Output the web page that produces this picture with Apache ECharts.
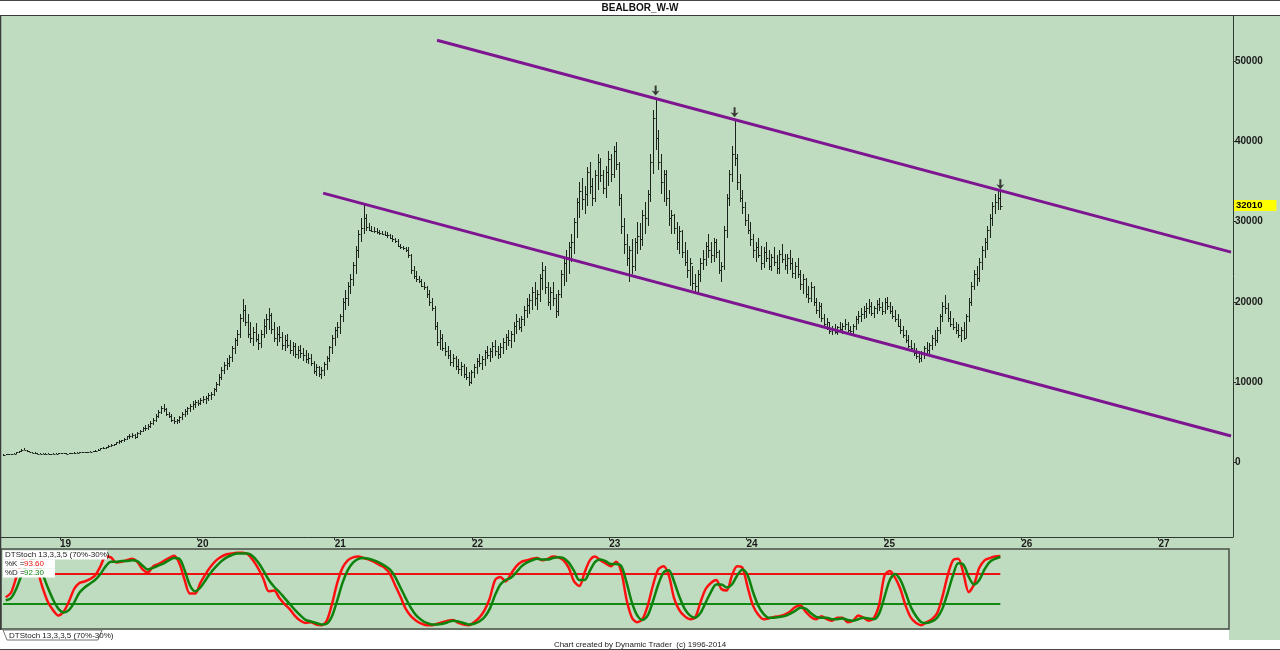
<!DOCTYPE html>
<html><head><meta charset="utf-8">
<script src="https://cdn.jsdelivr.net/npm/echarts@6/dist/echarts.min.js"></script>
<style>html,body{margin:0;padding:0;background:#fff;}#c{width:1280px;height:650px;}</style>
</head><body><div id="c"></div>
<script>
const chartTitle = 'BEALBOR_W-W';
const footerText = 'Chart created by Dynamic Trader  (c) 1996-2014';
const stochName = 'DTStoch 13,3,3,5 (70%-30%)';
const yearTicks = [2019, 2020, 2021, 2022, 2023, 2024, 2025, 2026, 2027];
const yearLabels = ['19', '20', '21', '22', '23', '24', '25', '26', '27'];
const priceTicks = [0, 10000, 20000, 30000, 40000, 50000];
const stochLevels = [70, 30];
const startYear = 2018.585;          // date (in years) of the first weekly bar
const weekStep = 7 / 365.25;

// weekly bars: [low, high, close]
const bars2018 = [[800,950,900],[850,1000,950],[900,1000,950],[900,1050,1000],[950,1100,1050],[1000,1250,1200],[1150,1400,1350],[1300,1600,1550],[1450,1700,1500],[1300,1550,1350],[1200,1400,1250],[1100,1300,1150],[1050,1200,1100],[1000,1150,1050],[950,1100,1000],[950,1100,1050],[1000,1100,1050],[950,1100,1000],[950,1050,1000],[950,1100,1050],[1000,1100,1050],[1000,1150,1100]];
const bars2019 = [[1000,1150,1100],[1050,1150,1100],[1000,1100,1050],[1000,1150,1100],[1050,1150,1100],[1050,1200,1150],[1100,1200,1150],[1100,1250,1200],[1150,1300,1250],[1150,1300,1200],[1150,1300,1250],[1200,1350,1300],[1250,1400,1350],[1300,1450,1400],
[1350,1600,1550],[1500,1750,1700],[1600,1850,1750],[1650,1900,1850],[1750,2100,2050],[1900,2250,2150],[2000,2300,2200],[2100,2500,2450],[2300,2700,2600],[2400,2800,2700],[2500,3000,2900],[2700,3300,3200],[2900,3500,3300],
[3000,3600,3400],[2900,3500,3100],[3000,3700,3600],[3400,4000,3900],[3700,4400,4300],[3900,4600,4200],[4000,4700,4500],[4300,5100,4900],[4600,5500,5300],[5000,6000,5800],[5500,6500,6300],
[6000,7000,6700],[6300,7200,6600],[5800,6800,6000],[5500,6300,5700],[5000,6000,5300],[4800,5600,5100],[4700,5400,5200],
[4900,5800,5600],[5200,6200,6000],[5600,6600,6400],[5900,6900,6700],[6300,7200,7000],[6500,7600,7300],[6800,7800,7500]];
const bars2020 = [[7000,7800,7400],[7100,8000,7800],[7400,8300,7900],[7300,8200,8000],[7600,8600,8400],[7800,8800,8500],[8200,9300,9100],[8800,10000,9800],[9500,11000,10600],[10200,11800,11500],
[11000,12500,12100],[11500,13000,12300],[11800,13400,13100],[12500,14500,14200],[13500,15500,15200],[14500,16500,16000],[15500,18500,18000],[17500,20300,19000],[17000,19600,17500],[15500,18500,16000],
[14800,17500,15500],[14500,16800,16200],[15000,17300,15300],[14000,16000,14800],[14200,16500,16000],[15500,17800,17000],[16000,18500,17800],[16500,19200,18300],[16000,18600,16600],[15000,17500,15500],
[14500,16800,16000],[15000,17000,15600],[14000,16200,14600],[13800,15800,15200],[14200,16000,14600],[13500,15200,14000],[13200,15000,14500],[13000,14800,13500],[12800,14500,14000],[13000,14600,13600],
[12600,14200,13300],[12400,14000,12800],[12200,13600,13000],[12000,13500,12300],[11000,12600,11400],[10800,12200,11800],[10600,12000,11000],[10400,11800,11500],[10800,12500,12200],[11500,13200,13000],
[12500,14500,14300],[13500,15800,15500]];
const bars2021 = [[14500,16800,16500],[15500,17500,16800],[16000,18500,18200],[17500,20500,20000],[19000,21500,20500],[19500,22500,22000],[21000,23500,22800],[22000,25000,24600],[23500,27000,26500],[25500,29000,28500],
[27500,30500,29200],[28500,32300,30500],[28800,31000,29300],[28800,29800,29000],[28700,29500,28900],[28600,29300,28800],[28500,29200,28700],[28400,29000,28600],[28400,28900,28500],[28200,28800,28400],
[28000,28700,28300],[27900,28500,28000],[27500,28300,27800],[27400,28000,27600],[26800,27800,27000],[26600,27200,26900],[26500,27000,26700],[26200,26900,26500],[25500,26800,25800],[23500,26000,24000],
[22800,24500,23200],[22500,23800,22900],[22300,23200,22600],[21800,22800,22000],[21500,22500,21800],[20500,22000,21000],[19500,21500,20000],[18800,20500,19200],[16500,19500,17000],[14500,17500,15000],
[14000,16500,15500],[13800,16000,14200],[13200,15000,13800],[12800,14500,13300],[12000,14000,12500],[11800,13500,13000],[11500,13200,12000],[11000,12800,11600],[10800,12500,12000],[10500,12200,11000],
[10200,11800,10600],[9500,11200,10000],[9800,11500,11200]];
const bars2022 = [[10500,12200,11800],[11000,13000,12600],[11800,13500,12400],[11500,13200,12900],[12000,14000,13700],[12800,14500,13300],[12500,14200,13900],[13000,15000,14500],[13200,15200,13800],[12800,14500,13500],
[13000,14800,14400],[13500,15500,15000],[14000,16000,15600],[14500,16500,15200],[14200,16300,16000],[15000,17500,17000],[16000,18500,17600],[16500,18000,16900],[16200,18200,17800],[17000,19500,19000],
[18000,20500,19600],[18500,21000,20200],[19000,21800,21200],[19500,22500,20500],[19000,21500,21000],[20000,23500,23000],[21500,25000,24000],[21000,24500,21800],[19500,22500,20000],[19000,21800,21200],
[19500,22500,20500],[18000,21000,18800],[18200,21500,21000],[20500,24000,23500],[22000,25500,24800],[22500,26500,25600],[23500,27500,26800],[25000,28500,27500],[26000,30500,30000],[28000,33000,32400],
[30500,35000,33800],[31500,35500,32800],[31000,34500,33500],[32000,36800,36200],[33500,37500,34500],[32000,35500,33000],[32500,36500,35800],[34000,38500,37500],[35000,38000,35800],[33500,36500,34200],
[33000,37000,36200],[34500,38800,37800]];
const bars2023 = [[35000,38500,36000],[35500,39500,38800],[36500,40000,37200],[32000,37500,33000],[28500,33500,29500],[26000,30500,27200],[24500,28500,25500],[22500,27000,26500],[23500,27800,24500],[23800,28000,27500],
[26000,30000,28200],[26500,29800,27800],[27000,31500,30800],[28500,32500,30500],[29500,34000,33500],[32500,38500,37500],[36000,44000,43000],[39000,45500,40500],[36500,41500,37500],[33500,38500,35000],
[32500,36500,36000],[32000,36500,33000],[29500,34000,30500],[28500,31500,30800],[28500,31000,29200],[26500,30000,27500],[26000,29500,28800],[25500,29000,26200],[24500,27500,25000],[23000,26500,24000],
[22000,25500,24800],[21500,24500,22300],[21000,23500,22000],[21200,24000,23500],[22500,25500,24800],[24000,26500,25400],[24500,27500,27000],[25500,28500,26500],[24800,27500,25800],[25000,28000,27500],
[25500,27800,26200],[23500,26500,24000],[22500,25000,24500],[24000,29500,29000],[28000,33500,33000],[32000,36500,36000],[35000,39500,38500],[37000,42800,38000],[34000,38500,35000],[32500,36000,33000],
[31000,34000,31800],[29500,32500,30200]];
const bars2024 = [[28500,31000,29000],[27000,30000,27800],[25500,28500,26500],[25000,27500,26800],[25500,28000,25800],[24000,27000,24800],[24200,26800,26200],[25000,27500,25500],[24000,26500,24500],[23800,26000,25600],
[24500,26800,25000],[23500,25800,24200],[23500,26500,26000],[24800,27200,25300],[24000,26000,24600],[23500,26000,25500],[24000,26500,24800],[23000,25500,23600],[22800,25000,24500],[23000,25500,23500],
[21500,24000,22200],[21000,23500,22800],[20500,23000,21000],[19800,22000,20500],[20000,22500,21800],[19500,22000,20000],[18500,20500,19000],[18000,20000,19500],[17500,19800,18000],[16800,18500,17200],
[16500,18000,17500],[16000,17500,16400],[15800,17000,16500],[16000,17200,16200],[15900,17000,16800],[16200,17500,16600],[16000,17300,17000],[16500,17800,17200],[16200,17500,16500],[16000,17000,16400],
[15800,17200,17000],[16500,18200,17800],[17200,18800,18200],[17500,19200,18500],[17800,19500,18800],[18000,19800,19200],[18500,20300,19500],[18200,20000,18600],[18000,19500,19200],[18500,20200,19700],
[18800,20500,19400],[18300,20000,18800]];
const bars2025 = [[18500,20500,20000],[19000,20600,19500],[18500,20000,18800],[17800,19500,18200],[17500,19000,17800],[16800,18500,17000],[16000,17800,16500],[15500,17000,15800],[14800,16500,15200],[14200,15800,14500],
[13800,15200,14200],[13200,14800,13600],[12800,14200,13200],[12400,13800,13000],[12500,13800,13500],[12800,14500,14200],[13500,15000,14000],[13200,14800,14600],[14000,15800,15500],[14500,16500,15200],
[14800,16800,16500],[16000,18500,18200],[17500,20000,19500],[18500,20800,19200],[17500,19800,18000],[16800,18800,17200],[16500,18000,16800],[16000,17500,16500],[15500,17200,15800],[15000,16800,16500],
[15200,17500,15500],[15500,18500,18200],[17500,20500,20000],[19500,22500,22000],[21500,24000,23500],[22000,24500,23000],[22500,25500,25000],[24000,27000,26500],[25500,28000,27500],[26500,29500,29000],
[28000,31000,30500],[29500,32500,32000],[31000,33500,32500],[31500,34000,33000],[31500,33800,32010]];

// channel lines drawn on the chart: [year, price]
const upperChannel = [[2021.746, 52660], [2027.529, 26200]];
const lowerChannel = [[2020.916, 33570], [2027.529, 3245]];
// bars marked with an arrow above their high
const arrowBars = [248, 278, 379];

// stochastic, sampled every second week (bar index 2j+1)
const stochK = [39,45,65,85,93,90,75,52,33,22,15,20,33,50,58,60,63,68,80,93,
92,85,86,88,90,86,76,72,80,83,87,91,94,84,62,44,44,58,70,80,
88,93,96,97,98,98,96,88,77,63,47,48,38,30,23,14,8,5,6,3,
2,8,30,58,78,88,92,93,91,89,86,82,78,70,55,40,24,14,8,4,
2,2,4,6,8,9,5,3,2,6,12,22,38,62,66,60,70,80,86,88,
90,91,88,90,93,92,88,78,60,54,72,88,93,88,84,80,86,72,35,12,
6,10,28,55,76,80,68,38,22,14,10,12,32,50,58,62,50,48,68,80,
78,52,28,16,10,11,13,14,16,20,26,28,20,13,10,14,10,8,12,12,
6,8,15,12,8,12,30,68,74,65,50,28,12,5,2,6,10,18,40,68,
88,90,70,46,56,78,88,91,93,93.6];
const stochD = [35,38,50,68,82,88,84,70,52,36,24,19,22,32,45,52,57,62,70,80,
86,86,87,87,88,87,81,76,78,81,84,88,91,90,75,55,47,52,62,72,
80,87,92,95,97,97,97,93,85,74,62,53,46,38,30,22,15,9,7,5,
3,4,14,35,58,75,85,90,91,90,88,85,81,76,66,52,38,25,15,9,
5,3,3,4,6,8,7,5,3,4,7,13,24,42,56,62,65,72,80,85,
88,90,89,89,91,92,91,85,74,62,62,74,86,89,87,83,83,80,58,32,
15,9,15,34,56,72,75,60,40,24,15,12,18,32,46,56,56,52,56,68,
76,68,46,28,17,12,12,13,14,17,21,25,24,18,13,12,12,10,10,11,
9,8,10,12,11,10,18,40,62,70,62,45,26,14,6,5,7,12,24,45,
68,84,82,66,56,62,76,86,90,92.3];

const allBars = [].concat(bars2018, bars2019, bars2020, bars2021, bars2022, bars2023, bars2024, bars2025);
const yearOf = i => startYear + i * weekStep;
const ohlcData = allBars.map((b, i) => [yearOf(i), b[0], b[1], b[2]]);
const lastIdx = allBars.length - 1;
const lastClose = allBars[lastIdx][2];
const kData = stochK.map((v, j) => [yearOf(2 * j + 1), v]);
const dData = stochD.map((v, j) => [yearOf(2 * j + 1), v]);
const arrowData = arrowBars.map(i => [yearOf(i), allBars[i][1]]);
const levelLine = v => [[yearOf(0), v], [yearOf(lastIdx), v]];

const GREEN_BG = '#c0dcc0';
const FONT = '"Liberation Sans", Arial, sans-serif';
const X_MIN = 2018.570, PX_PER_YEAR = 137.3;
const txt = (x, y, text, font, fill, align) => ({type: 'text', x: x, y: y, z: 21,
  style: {text: text, font: font, fill: fill, align: align, verticalAlign: 'middle', textAlign: align, textVerticalAlign: 'middle'}});

const chart = echarts.init(document.getElementById('c'), null, {renderer: 'canvas'});
chart.setOption({
  animation: false,
  backgroundColor: GREEN_BG,
  grid: [
    {left: 1, top: 16, width: 1232, height: 521, containLabel: false},
    {left: 1, top: 549, width: 1228, height: 80, show: true, borderColor: '#4a4f4a', borderWidth: 1.5, backgroundColor: 'transparent'}
  ],
  xAxis: [
    {type: 'value', gridIndex: 0, min: X_MIN, max: X_MIN + 1232 / PX_PER_YEAR, splitLine: {show: false},
     axisLine: {show: true, onZero: false, lineStyle: {color: '#2f3a2f', width: 1}},
     axisTick: {show: true, customValues: yearTicks, length: 3, lineStyle: {color: '#333'}},
     axisLabel: {customValues: yearTicks, formatter: v => yearLabels[yearTicks.indexOf(Math.round(v))],
       align: 'left', margin: 2, color: '#1a1a1a', fontSize: 10, fontWeight: 'bold', fontFamily: FONT}},
    {type: 'value', gridIndex: 1, min: X_MIN, max: X_MIN + 1228 / PX_PER_YEAR, show: false}
  ],
  yAxis: [
    {type: 'value', gridIndex: 0, position: 'right', min: -9360, max: 55680, splitLine: {show: false},
     axisLine: {show: true, onZero: false, lineStyle: {color: '#2f3a2f', width: 1}},
     axisTick: {show: true, customValues: priceTicks, length: 3, inside: false, lineStyle: {color: '#333'}},
     axisLabel: {customValues: priceTicks, formatter: v => String(v), margin: 2, color: '#1a1a1a', fontSize: 10,
       fontWeight: 'bold', fontFamily: FONT, align: 'left'}},
    {type: 'value', gridIndex: 1, min: -3, max: 103, show: false}
  ],
  series: [
    {
      type: 'custom', xAxisIndex: 0, yAxisIndex: 0, data: ohlcData, silent: true,
      encode: {x: 0, y: [1, 2, 3]},
      renderItem: (params, api) => {
        const x = api.value(0);
        const lo = api.coord([x, api.value(1)]);
        const hi = api.coord([x, api.value(2)]);
        const cl = api.coord([x, api.value(3)]);
        const px = Math.round(lo[0]) + 0.5;
        let y1 = Math.round(lo[1]), y2 = Math.round(hi[1]);
        if (y1 - y2 < 1) y1 = y2 + 1;
        const cy = Math.round(cl[1]) + 0.5;
        const st = {stroke: '#1c241c', lineWidth: 1};
        return {type: 'group', children: [
          {type: 'line', shape: {x1: px, y1: y1, x2: px, y2: y2}, style: st},
          {type: 'line', shape: {x1: px, y1: cy, x2: px + 2, y2: cy}, style: st}
        ]};
      }
    },
    {type: 'line', xAxisIndex: 0, yAxisIndex: 0, data: upperChannel, symbol: 'none', silent: true,
     lineStyle: {color: '#7e1590', width: 3},
     markLine: {silent: true, symbol: ['none', 'none'], lineStyle: {color: 'rgba(0,0,0,0)', width: 0},
       data: [{yAxis: lastClose}],
       label: {show: true, position: 'end', distance: 1, formatter: String(lastClose), color: '#000',
         backgroundColor: '#ffff00', padding: [1, 14, 0, 2], fontSize: 9.5, fontWeight: 'bold', fontFamily: FONT}}},
    {type: 'line', xAxisIndex: 0, yAxisIndex: 0, data: lowerChannel, symbol: 'none', silent: true,
     lineStyle: {color: '#7e1590', width: 3}},
    {type: 'scatter', xAxisIndex: 0, yAxisIndex: 0, data: arrowData, silent: true,
     symbol: 'path://M3,0 L5,0 L5,6 L8,5 L4,10 L0,5 L3,6 Z', symbolSize: [8, 10], symbolOffset: [0, -7],
     itemStyle: {color: '#111'}},
    {type: 'line', xAxisIndex: 1, yAxisIndex: 1, data: levelLine(stochLevels[0]), symbol: 'none', silent: true,
     lineStyle: {color: '#ee1111', width: 2}},
    {type: 'line', xAxisIndex: 1, yAxisIndex: 1, data: levelLine(stochLevels[1]), symbol: 'none', silent: true,
     lineStyle: {color: '#108a10', width: 2}},
    {type: 'line', xAxisIndex: 1, yAxisIndex: 1, data: kData, symbol: 'none', smooth: 0.3, silent: true,
     lineStyle: {color: '#ff1010', width: 2.5}},
    {type: 'line', xAxisIndex: 1, yAxisIndex: 1, data: dData, symbol: 'none', smooth: 0.3, silent: true,
     lineStyle: {color: '#0d820d', width: 2.5}}
  ],
  graphic: [
    {type: 'rect', shape: {x: 0, y: 0, width: 1280, height: 15}, style: {fill: '#ffffff'}, z: 10},
    {type: 'line', shape: {x1: 0, y1: 0.5, x2: 1280, y2: 0.5}, style: {stroke: '#444', lineWidth: 1}, z: 11},
    {type: 'line', shape: {x1: 0, y1: 15.5, x2: 1280, y2: 15.5}, style: {stroke: '#3a3a3a', lineWidth: 1}, z: 11},
    txt(640, 8, chartTitle, 'bold 10px ' + FONT, '#111', 'center'),
    {type: 'line', shape: {x1: 0.5, y1: 15, x2: 0.5, y2: 630}, style: {stroke: '#3a3a3a', lineWidth: 1.5}, z: 11},
    {type: 'rect', shape: {x: 0, y: 630, width: 1229, height: 20}, style: {fill: '#ffffff'}, z: 10},
    {type: 'rect', shape: {x: 1229, y: 640, width: 51, height: 10}, style: {fill: '#ffffff'}, z: 10},
    {type: 'line', shape: {x1: 0, y1: 649.5, x2: 1280, y2: 649.5}, style: {stroke: '#444', lineWidth: 1}, z: 11},
    {type: 'polygon', shape: {points: [[3, 630], [7, 640], [98, 640], [102, 630]]}, style: {fill: '#ffffff', stroke: '#777', lineWidth: 1}, z: 11},
    txt(9, 635.5, stochName, '8px ' + FONT, '#222', 'left'),
    txt(640, 644.5, footerText, '8px ' + FONT, '#222', 'center'),
    // stochastic legend
    {type: 'rect', shape: {x: 3, y: 550.5, width: 104, height: 9}, style: {fill: '#ffffff'}, z: 20},
    txt(5, 555, stochName, '8px ' + FONT, '#222', 'left'),
    {type: 'rect', shape: {x: 3, y: 559.5, width: 52, height: 9}, style: {fill: '#ffffff'}, z: 20},
    txt(5, 564, '%K =', '8px ' + FONT, '#222', 'left'),
    txt(24, 564, stochK[stochK.length - 1].toFixed(2), '8px ' + FONT, '#ee1111', 'left'),
    {type: 'rect', shape: {x: 3, y: 568.5, width: 52, height: 9}, style: {fill: '#ffffff'}, z: 20},
    txt(5, 573, '%D =', '8px ' + FONT, '#222', 'left'),
    txt(24, 573, stochD[stochD.length - 1].toFixed(2), '8px ' + FONT, '#108a10', 'left')
  ]
});
</script>
</body></html>
